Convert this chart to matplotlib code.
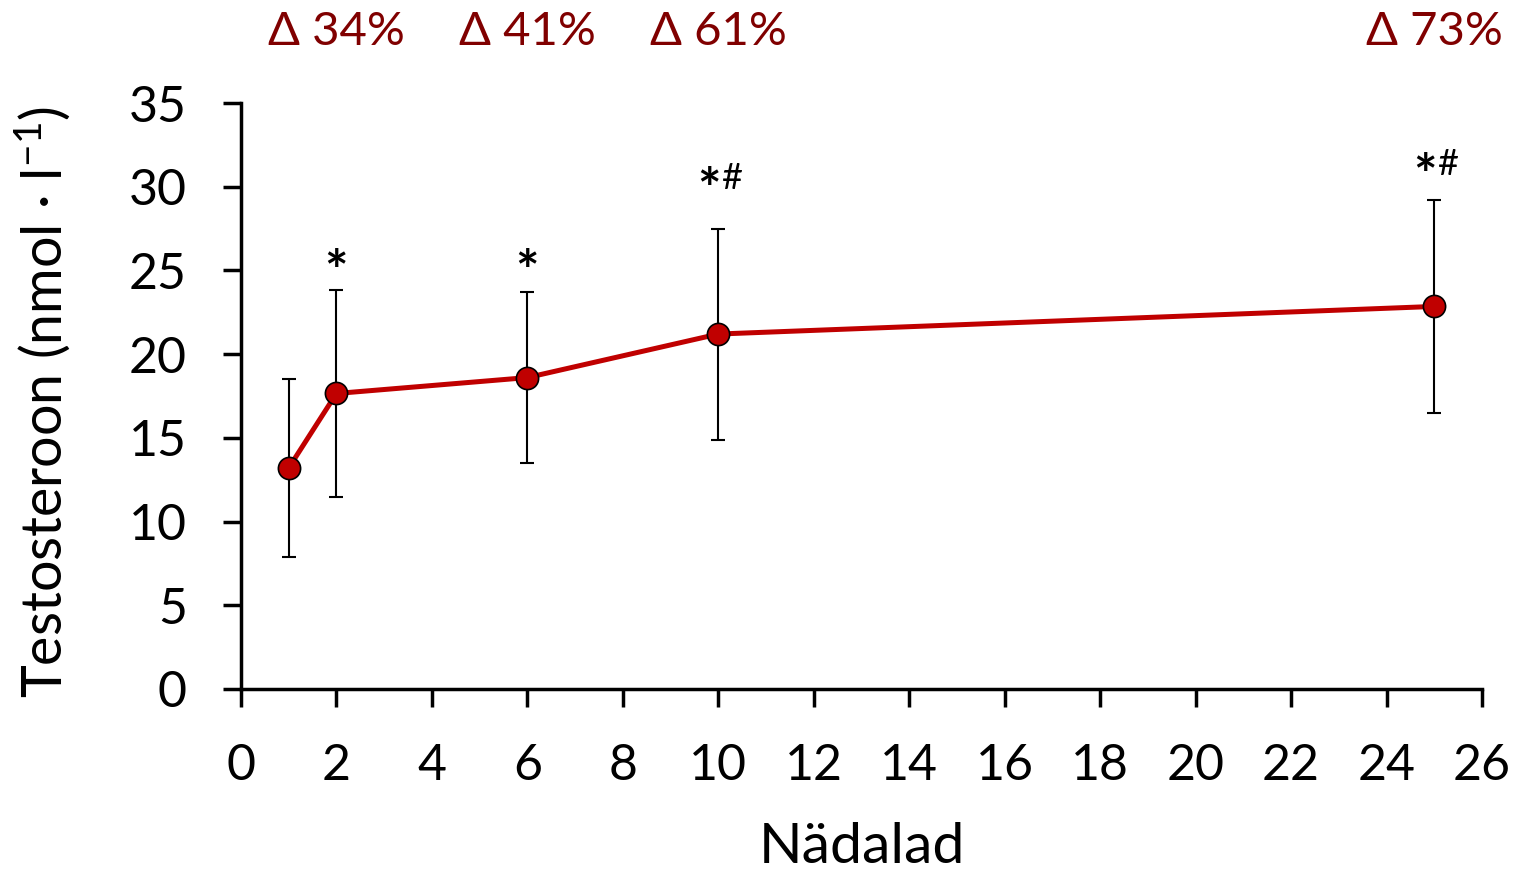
import matplotlib
matplotlib.use("Agg")
import matplotlib.pyplot as plt

plt.rcParams["font.family"] = ["Lato", "DejaVu Sans"]
plt.rcParams["mathtext.default"] = "regular"

# andmed
weeks = [1, 2, 6, 10, 25]
testo = [13.2, 17.65, 18.6, 21.2, 22.85]
sd = [5.3, 6.2, 5.1, 6.3, 6.35]
delta_weeks = [2, 6, 10, 25]
delta_labels = ["Δ 34%", "Δ 41%", "Δ 61%", "Δ 73%"]
sig_weeks = [2, 6, 10, 25]
sig_y = [24.8, 24.8, 29.7, 30.5]
sig_star = ["*", "*", "*", "*"]
sig_hash = ["", "", "#", "#"]

fig = plt.figure(figsize=(15.22, 8.73), dpi=100)
ax = fig.add_axes([0.1583, 0.2108, 0.8154, 0.6712])

ax.errorbar(weeks, testo, yerr=sd, fmt="none", ecolor="black",
            elinewidth=1.5, capsize=5, capthick=1.5, zorder=2)
ax.plot(weeks, testo, "-", color="#C00000", lw=3.6, zorder=3)
ax.plot(weeks, testo, "o", color="#C00000", ms=16, mec="black", mew=1.2, zorder=4)

ax.set_xlim(0, 26)
ax.set_ylim(0, 35)
ax.set_xticks(range(0, 27, 2))
ax.set_yticks(range(0, 36, 5))
ax.tick_params(labelsize=36, width=2.5, length=13, direction="out",
               color="black", pad=26)
for s in ["top", "right"]:
    ax.spines[s].set_visible(False)
for s in ["left", "bottom"]:
    ax.spines[s].set_linewidth(2.5)

ax.set_xlabel("Nädalad", fontsize=41, va="center")
ax.xaxis.set_label_coords(0.5, -0.271)
ax.set_ylabel("Testosteroon (nmol · l$^{-1}$)", fontsize=40, va="center")
ax.yaxis.set_label_coords(-0.160, 0.49)

for w, lab in zip(delta_weeks, delta_labels):
    ax.text(w, 1.121, lab, transform=ax.get_xaxis_transform(), ha="center",
            va="center", fontsize=34, color="#800000")

for w, y, st, hs in zip(sig_weeks, sig_y, sig_star, sig_hash):
    if hs:
        ax.text(w + 0.05, y, st, ha="right", va="center", fontsize=40,
                fontweight="bold")
        ax.text(w + 0.05, y + 0.8, hs, ha="left", va="center", fontsize=26)
    else:
        ax.text(w, y, st, ha="center", va="center", fontsize=40,
                fontweight="bold")

fig.savefig("out.png", dpi=100)
